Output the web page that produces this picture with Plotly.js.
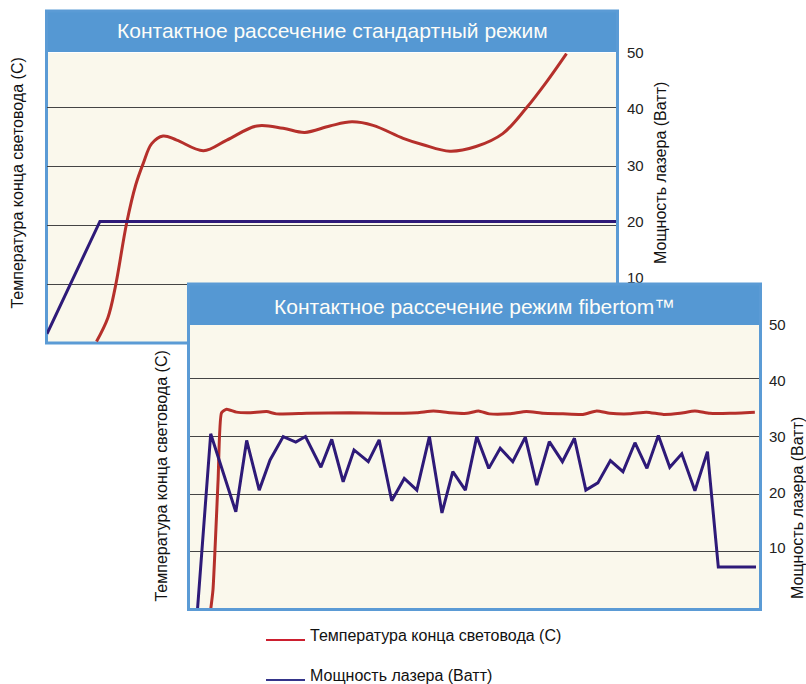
<!DOCTYPE html>
<html>
<head>
<meta charset="utf-8">
<script src="https://cdn.plot.ly/plotly-3.0.1.min.js"></script>
<style>html,body{margin:0;padding:0;background:#fff;}#chart{width:806px;height:684px;}</style>
</head>
<body>
<div id="chart"></div>
<script>
// ---------- DATA ----------
// Top panel: standard mode (time in arbitrary units 0..100)
const stdTempTime = [8.7, 10.7, 12.0, 14.0, 15.6, 16.9, 18.4, 20.4, 22.8, 27.5, 31.6, 36.9, 41.5, 45.3, 49.7, 53.6, 57.3, 62.6, 66.1, 70.8, 75.4, 80.1, 84.2, 87.8, 91.3];
const stdTemp     = [0.25, 4.3, 9.5, 20.4, 26.9, 30.5, 33.9, 35.2, 34.5, 32.7, 34.5, 36.9, 36.5, 35.8, 36.9, 37.6, 37.0, 34.8, 33.7, 32.6, 33.4, 35.6, 39.9, 44.4, 49.2];
const stdPowerTime = [0, 9.3, 100];
const stdPower     = [0, 20, 20];

// Bottom panel: fibertom mode
const fibTempTime = [3.8, 4.2, 5.1, 5.7, 6.6, 8.3, 10.6, 13.6, 15.3, 20.6, 28.2, 34.0, 39.9, 42.8, 45.7, 48.7, 50.7, 52.6, 56.1, 59.1, 62.0, 65.5, 69.0, 71.4, 73.7, 77.2, 80.1, 83.1, 86.0, 88.6, 91.2, 94.7, 99.1];
const fibTemp     = [0, 3.4, 22.5, 34.1, 34.7, 34.2, 34.1, 34.3, 33.9, 34.0, 34.1, 34.0, 34.1, 34.4, 34.1, 34.0, 34.4, 33.9, 33.9, 34.3, 34.0, 33.9, 33.8, 34.4, 34.0, 33.9, 34.2, 33.8, 34.0, 34.4, 34.0, 34.0, 34.2];
const fibPowerTime = [1.5, 3.8, 8.2, 10.1, 12.3, 14.2, 16.5, 18.7, 20.4, 23.1, 25.0, 27.0, 28.9, 31.4, 33.3, 35.5, 37.7, 39.9, 42.1, 44.3, 46.2, 48.4, 50.4, 52.5, 54.5, 56.7, 58.9, 60.9, 63.1, 65.4, 67.5, 69.5, 71.6, 73.8, 76.0, 78.1, 80.2, 82.2, 84.2, 86.3, 88.6, 90.8, 92.7, 99.3];
const fibPower     = [-0.8, 30.5, 16.5, 29.3, 20.4, 25.8, 30.0, 29.0, 30.0, 24.5, 29.5, 21.9, 27.6, 25.5, 29.4, 18.5, 22.5, 20.4, 30.0, 16.3, 23.7, 20.4, 30.0, 24.3, 27.9, 25.5, 29.9, 21.3, 29.1, 25.5, 29.7, 20.4, 21.7, 25.7, 23.7, 28.9, 24.3, 30.2, 24.5, 26.9, 20.3, 27.3, 6.6, 6.6];

// Labels
const titleTop = 'Контактное рассечение стандартный режим';
const titleBottom = 'Контактное рассечение режим fibertom™';
const leftTitle = 'Температура конца световода (C)';
const rightTitle = 'Мощность лазера (Ватт)';
const legendTemp = 'Температура конца световода (С)';
const legendPower = 'Мощность лазера (Ватт)';
const gridVals = [10, 20, 30, 40];
const rightTickVals = [10, 20, 30, 40, 50];

// ---------- STYLE / LAYOUT ----------
const W = 806, H = 684;
const px = x => x / W;
const py = y => 1 - y / H;
const FONT = 'Liberation Sans, Arial, sans-serif';
const RED = '#b5302b', BLUE = '#2e1a78';
const BAND = '#5598d3', FRAME = '#5b9bd5', BG = '#faf8ec', GRID = '#444';

const traces = [
  {x: stdTempTime, y: stdTemp, xaxis: 'x', yaxis: 'y', mode: 'lines', line: {color: RED, width: 3, shape: 'spline', smoothing: 1}, showlegend: false, hoverinfo: 'skip'},
  {x: stdPowerTime, y: stdPower, xaxis: 'x', yaxis: 'y2', mode: 'lines', line: {color: BLUE, width: 3}, showlegend: false, hoverinfo: 'skip'},
  {x: fibTempTime, y: fibTemp, xaxis: 'x2', yaxis: 'y3', mode: 'lines', line: {color: RED, width: 3, shape: 'spline', smoothing: 0.5}, showlegend: false, hoverinfo: 'skip'},
  {x: fibPowerTime, y: fibPower, xaxis: 'x2', yaxis: 'y4', mode: 'lines', line: {color: BLUE, width: 3}, showlegend: false, hoverinfo: 'skip'}
];

const hiddenX = {range: [0, 100], showgrid: false, zeroline: false, showline: false, showticklabels: false, ticks: '', fixedrange: true};
const gridY = {showgrid: true, gridcolor: GRID, gridwidth: 1, tickvals: gridVals, showticklabels: false, ticks: '', zeroline: false, showline: false, fixedrange: true};
const labelY = {showgrid: false, zeroline: false, showline: false, tickvals: rightTickVals, ticks: 'outside', tickcolor: 'rgba(0,0,0,0)',
  tickfont: {family: FONT, size: 15, color: '#222'}, side: 'right', fixedrange: true};

// panel geometry (pixels)
const T = {l: 47, r: 616, t: 53, b: 343};
const B = {l: 189, r: 760, t: 325, b: 609.5};

const layout = {
  width: W, height: H,
  margin: {l: 0, r: 0, t: 0, b: 0},
  paper_bgcolor: '#fff', plot_bgcolor: BG,
  showlegend: false,
  font: {family: FONT},
  xaxis: Object.assign({}, hiddenX, {domain: [px(T.l), px(T.r)], anchor: 'y'}),
  yaxis: Object.assign({}, gridY, {domain: [py(T.b), py(T.t)], range: [0, 49.3], anchor: 'x'}),
  yaxis2: Object.assign({}, labelY, {overlaying: 'y', anchor: 'x', range: [-1.65, 50], ticklen: 7}),
  xaxis2: Object.assign({}, hiddenX, {domain: [px(B.l), px(B.r)], anchor: 'y3'}),
  yaxis3: Object.assign({}, gridY, {domain: [py(B.b), py(B.t)], range: [0, 49.3], anchor: 'x2'}),
  yaxis4: Object.assign({}, labelY, {overlaying: 'y3', anchor: 'x2', range: [-1.0, 50], ticklen: 5}),
  shapes: [
    // top panel frame + band (below subplots so bottom panel covers it)
    {type: 'rect', xref: 'paper', yref: 'paper', layer: 'below', x0: px(45), x1: px(619), y0: py(10), y1: py(52), fillcolor: BAND, line: {width: 0}},
    {type: 'rect', xref: 'paper', yref: 'paper', layer: 'below', x0: px(46.5), x1: px(617.5), y0: py(11), y1: py(343), fillcolor: 'rgba(0,0,0,0)', line: {color: FRAME, width: 3}},
    // bottom panel band + frame
    {type: 'rect', xref: 'paper', yref: 'paper', layer: 'above', x0: px(187.5), x1: px(762), y0: py(283), y1: py(325), fillcolor: BAND, line: {width: 0}},
    {type: 'rect', xref: 'paper', yref: 'paper', layer: 'above', x0: px(188.5), x1: px(760.5), y0: py(284), y1: py(609.5), fillcolor: 'rgba(0,0,0,0)', line: {color: FRAME, width: 3}},
    // legend samples
    {type: 'line', xref: 'paper', yref: 'paper', x0: px(266), x1: px(305), y0: py(640), y1: py(640), line: {color: '#cc1f2f', width: 2}},
    {type: 'line', xref: 'paper', yref: 'paper', x0: px(266), x1: px(305), y0: py(680), y1: py(680), line: {color: '#35358a', width: 2}}
  ],
  annotations: [
    {text: titleTop, xref: 'paper', yref: 'paper', x: px(332), y: py(31), xanchor: 'center', yanchor: 'middle', showarrow: false, font: {family: FONT, size: 21, color: '#fdfdf8'}},
    {text: titleBottom, xref: 'paper', yref: 'paper', x: px(475), y: py(306), xanchor: 'center', yanchor: 'middle', showarrow: false, font: {family: FONT, size: 21, color: '#fdfdf8'}},
    {text: leftTitle, xref: 'paper', yref: 'paper', x: px(16.5), y: py(183), textangle: -90, xanchor: 'center', yanchor: 'middle', showarrow: false, font: {family: FONT, size: 16, color: '#111'}},
    {text: rightTitle, xref: 'paper', yref: 'paper', x: px(660), y: py(173), textangle: -90, xanchor: 'center', yanchor: 'middle', showarrow: false, font: {family: FONT, size: 16, color: '#111'}},
    {text: leftTitle, xref: 'paper', yref: 'paper', x: px(160.5), y: py(476), textangle: -90, xanchor: 'center', yanchor: 'middle', showarrow: false, font: {family: FONT, size: 16, color: '#111'}},
    {text: rightTitle, xref: 'paper', yref: 'paper', x: px(797), y: py(508), textangle: -90, xanchor: 'center', yanchor: 'middle', showarrow: false, font: {family: FONT, size: 16, color: '#111'}},
    {text: legendTemp, xref: 'paper', yref: 'paper', x: px(308), y: py(635), xanchor: 'left', yanchor: 'middle', showarrow: false, font: {family: FONT, size: 16, color: '#111'}},
    {text: legendPower, xref: 'paper', yref: 'paper', x: px(308), y: py(675), xanchor: 'left', yanchor: 'middle', showarrow: false, font: {family: FONT, size: 16, color: '#111'}}
  ]
};

Plotly.newPlot('chart', traces, layout, {displayModeBar: false, staticPlot: true});
</script>
</body>
</html>
